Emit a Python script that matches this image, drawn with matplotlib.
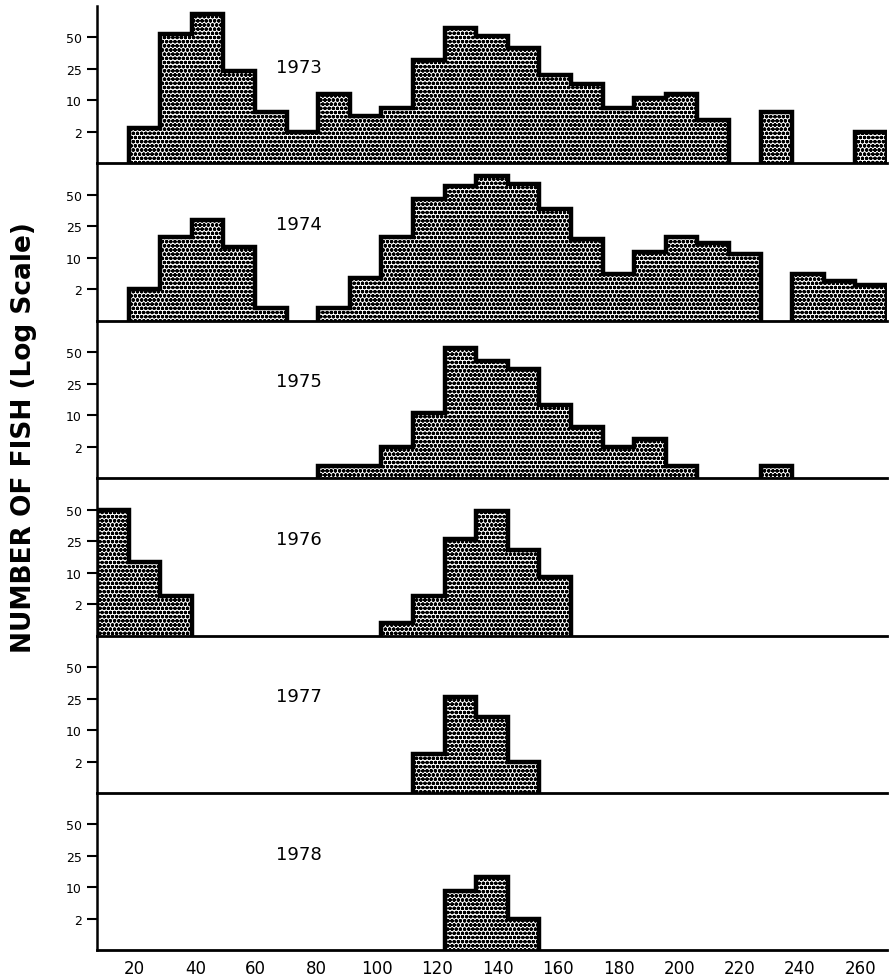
import numpy as np
import matplotlib
matplotlib.use("Agg")
import matplotlib.pyplot as plt

years = ["1973", "1974", "1975", "1976", "1977", "1978"]

# length classes (mm), 25 classes
bin_start = 7.5
bin_width = 10.45
n_bins = 25

counts_1973 = [0, 3, 55, 88, 24, 7, 2, 13, 6, 8, 32, 65, 52, 42, 22, 18, 8, 11, 13, 5, 0, 7, 0, 0, 2]
counts_1974 = [0, 2, 20, 30, 15, 1, 0, 1, 5, 20, 47, 64, 80, 68, 39, 19, 6, 13, 20, 17, 12, 0, 6, 4, 3]
counts_1975 = [0, 0, 0, 0, 0, 0, 0, 1, 1, 2, 11, 57, 43, 37, 15, 7, 2, 4, 1, 0, 0, 1, 0, 0, 0]
counts_1976 = [50, 15, 4, 0, 0, 0, 0, 0, 0, 1, 4, 27, 49, 21, 9, 0, 0, 0, 0, 0, 0, 0, 0, 0, 0]
counts_1977 = [0, 0, 0, 0, 0, 0, 0, 0, 0, 0, 4, 26, 16, 2, 0, 0, 0, 0, 0, 0, 0, 0, 0, 0, 0]
counts_1978 = [0, 0, 0, 0, 0, 0, 0, 0, 0, 0, 0, 9, 15, 2, 0, 0, 0, 0, 0, 0, 0, 0, 0, 0, 0]

y_ticks = [2, 10, 25, 50]
x_ticks = [20, 40, 60, 80, 100, 120, 140, 160, 180, 200, 220, 240, 260]

# the printed "log" axis has evenly spaced ticks, so map counts piecewise
count_knots = [0, 1, 2, 10, 25, 50, 100]
level_knots = [0, 0.4, 1, 2, 3, 4, 5]


def fwd(v):
    return np.interp(v, count_knots, level_knots)


def inv(v):
    return np.interp(v, level_knots, count_knots)


def runs(counts):
    # index ranges of consecutive non-empty classes
    out, start = [], None
    for k, c in enumerate(list(counts) + [0]):
        if c > 0 and start is None:
            start = k
        elif c == 0 and start is not None:
            out.append((start, k))
            start = None
    return out


all_counts = [counts_1973, counts_1974, counts_1975, counts_1976, counts_1977, counts_1978]
edges = bin_start + bin_width * np.arange(n_bins + 1)

plt.rcParams["hatch.linewidth"] = 1.2

W, H = 893, 979
fig = plt.figure(figsize=(W / 100, H / 100), dpi=100)

left_px, right_px = 97, 887
top_px, panel_px = 7, 157.4

for i, (year, counts) in enumerate(zip(years, all_counts)):
    y0 = top_px + panel_px * (i + 1)
    ax = fig.add_axes([left_px / W, 1 - y0 / H, (right_px - left_px) / W, panel_px / H])
    ax.set_facecolor("none")
    ax.set_yscale("function", functions=(fwd, inv))
    ax.stairs(counts, edges, fill=True, baseline=0, facecolor="white",
              edgecolor="black", hatch="oooo", linewidth=0, zorder=2)
    for a, b in runs(counts):
        ax.stairs(counts[a:b], edges[a:b + 1], fill=False, baseline=0,
                  edgecolor="black", linewidth=3.2, zorder=3)
    ax.set_xlim(edges[0], edges[-1])
    ax.set_ylim(0, 100)
    ax.set_yticks(y_ticks)
    ax.set_yticklabels([str(t) for t in y_ticks], fontsize=9)
    ax.tick_params(axis="y", direction="out", length=7, width=1.5, pad=4)
    ax.spines["top"].set_visible(False)
    ax.spines["right"].set_visible(False)
    ax.spines["left"].set_linewidth(1.8)
    ax.spines["bottom"].set_linewidth(2.0)
    ax.spines["bottom"].set_zorder(4)
    if i == len(years) - 1:
        ax.set_xticks(x_ticks)
        ax.set_xticklabels([str(t) for t in x_ticks], fontsize=12)
        ax.tick_params(axis="x", length=0, pad=6)
    else:
        ax.set_xticks([])
    ax.text(0.256, 0.615, year, transform=ax.transAxes, fontsize=13,
            ha="center", va="center")

fig.text(24 / W, 1 - 438 / H, "NUMBER OF FISH (Log Scale)", rotation=90,
         fontsize=19, fontweight="bold", ha="center", va="center")

fig.savefig("out.png", dpi=100)
